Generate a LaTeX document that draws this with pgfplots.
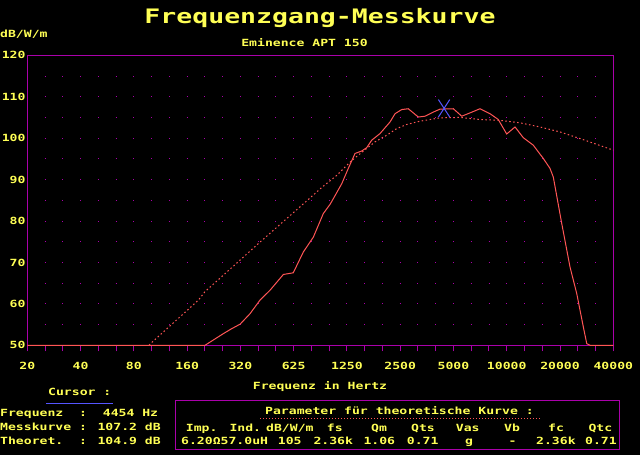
\documentclass[border=0pt]{standalone}
\usepackage{fontspec}
\usepackage{pgfplots}
\pgfplotsset{compat=1.18}
\newfontfamily\dos{DejaVu Sans Mono}[FakeStretch=1.33]
\newcommand\smallfont{\dos\bfseries\fontsize{9.9}{11}\selectfont}
\newcommand\bigfont{\dos\bfseries\fontsize{20}{22}\selectfont}
\definecolor{dosyellow}{HTML}{FFFF55}
\definecolor{dosmag}{HTML}{AA00AA}
\definecolor{dosred}{HTML}{FF5555}
\definecolor{dosblue}{HTML}{5555FF}

\begin{document}
\begin{tikzpicture}
\fill[black] (0,0) rectangle (640bp,455bp);
\useasboundingbox (0,0) rectangle (640bp,455bp);
\begin{axis}[
  at={(27.3bp,109.7bp)}, anchor=south west,
  scale only axis, width=586bp, height=290bp,
  xmode=log, xmin=20, xmax=40000, ymin=50, ymax=120,
  clip=false,
  axis line style={dosmag, line width=1bp},
  tick style={dosmag, line width=1bp},
  tick pos=left,
  xtick align=outside,
  major tick length=6bp, minor tick length=6bp,
  xtick={20,39.91,79.65,158.95,317.2,633.0,1263.2,2520.9,5030.6,10039,20034,40000},
  xticklabels={20,40,80,160,320,625,1250,2500,5000,10000,20000,40000},
  minor xtick={25.18,31.70,50.25,63.27,100.28,126.25,200.1,251.9,399.3,502.7,796.9,1003.3,1590.3,2002.2,3173.8,3995.8,6333,7974,12639,15913,25223,31756},
  ytick={50,60,...,120},
  yticklabels={50,60,70,80,90,100,110,120},
  minor ytick={55,65,...,115},
  ytick style={draw=none},
  ymajorgrids, yminorgrids,
  grid style={dosmag, line width=1bp, dash pattern=on 1bp off 16.7576bp, dash phase=0.5bp},
  ticklabel style={font=\smallfont, text=dosyellow, inner sep=0pt},
  xticklabel style={anchor=north, yshift=-10.7bp},
  yticklabel style={anchor=east, xshift=-1.6bp},
]
% theoretische Kurve
\addplot[draw=dosred, line width=1bp, dash pattern=on 1.5bp off 2.5bp] coordinates {
  (97,50) (100,50.6) (184,60.9) (200,62.9) (409,74.9) (766,85.2) (911,88.1)
  (1106,91.0) (1315,94.2) (1464,95.9) (1632,97.5) (1818,99.1) (2117,100.7)
  (2409,102.3) (2742,103.3) (3260,104.1) (4226,104.9) (5480,105.0) (7100,104.5)
  (9200,104.3) (11930,103.7) (15460,102.7) (20040,101.5) (25980,99.9)
  (32280,98.5) (40000,97.1)
};
% Messkurve
\addplot[draw=dosred, line width=1bp] coordinates {
  (20,50) (200.5,50) (254,52.8) (283,54.0) (316,55.1) (359,57.6) (409,60.9)
  (466,63.3) (554,67.1) (630,67.5) (717,72.5) (817,76.1) (930,81.8) (1014,84.0)
  (1059,85.4) (1181,89.0) (1286,92.7) (1403,96.3) (1530,96.9) (1632,97.7)
  (1742,99.5) (1940,101.1) (2209,103.9) (2357,105.9) (2570,106.9) (2800,107.1)
  (3189,105.1) (3480,105.3) (3875,106.3) (4226,107.0) (5021,107.1) (5602,105.3)
  (6236,106.1) (7100,107.1) (8084,105.9) (8997,104.5) (10034,101.0) (11180,102.7)
  (12450,100.1) (14170,98.3) (16130,95.1) (17600,92.7) (18370,90.6) (20490,79.4)
  (22810,68.9) (24890,62.5) (27120,54.4) (28350,50.4) (29590,50) (40000,50)
};
% Cursor
\addplot[only marks, mark=x, mark size=12.4bp,
  mark options={draw=dosblue, line width=1bp, xscale=0.65}] coordinates {(4454,107.2)};
\end{axis}
\begin{scope}[x=1bp, y=-1bp, shift={(0,455bp)},
  every node/.style={inner sep=0pt, text=dosyellow, font=\smallfont}]
\node[anchor=base, font=\bigfont] at (320,24) {Frequenzgang-Messkurve};
\node[anchor=base west] at (0,38) {dB/W/m};
\node[anchor=base] at (304.5,47) {Eminence APT 150};
\node[anchor=base] at (320,390) {Frequenz in Hertz};
\node[anchor=base west] at (48,396) {Cursor :};
\draw[dosblue, line width=1bp] (46,403.3) -- (113,403.3);
\node[anchor=base west] at (0,416.8) {Frequenz\ \ :\ \ 4454 Hz};
\node[anchor=base west] at (0,430.8) {Messkurve : 107.2 dB};
\node[anchor=base west] at (0,444.5) {Theoret.\ \ : 104.9 dB};
\draw[dosmag, line width=1bp] (175.3,400.7) rectangle (619.3,449.3);
\node[anchor=base west] at (265,414.2) {Parameter für theoretische Kurve :};
\draw[dosred, line width=1bp, dash pattern=on 1bp off 2bp] (260,418.3) -- (541.7,418.3);
\foreach \xx/\tt in {185.7/Imp., 229.3/Ind., 266/dB\slash W\slash m, 326.7/fs, 371/Qm,
  411/Qts, 455.7/Vas, 504/Vb, 548/fc, 588.3/Qtc}
  \node[anchor=base west] at (\xx,431.5) {\tt};
\foreach \xx/\tt in {181/6.20Ω57.0uH, 277.7/105, 313.3/2.36k, 363.3/1.06, 406.7/0.71,
  465/g, 508.3/-, 536/2.36k, 585/0.71}
  \node[anchor=base west] at (\xx,444.5) {\tt};
\end{scope}
\end{tikzpicture}
\end{document}
